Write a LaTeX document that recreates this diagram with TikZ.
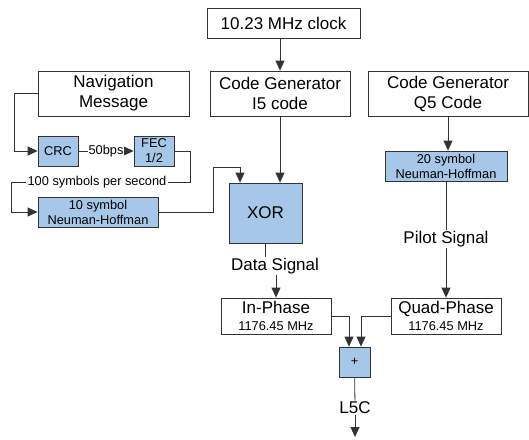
\documentclass[tikz,border=0pt]{standalone}
\usepackage{fontspec}
\setmainfont{Liberation Sans}
\usepackage{tikz}
\usetikzlibrary{calc, positioning, shapes, arrows.meta}
\definecolor{nhblue}{RGB}{166,199,231}
\newcommand\lblfont{\fontsize{17}{20}\selectfont}
\newcommand\tagfont{\fontsize{12.8}{15}\selectfont}
\tikzstyle{box}=[draw=black!80, line width=0.8pt, fill=white, inner sep=0pt, align=center, font=\lblfont]
\tikzstyle{blue box}=[box, fill=nhblue, font=\tagfont]
\tikzstyle{sig}=[inner sep=1pt, fill=white, font=\lblfont]
\tikzstyle{rate}=[inner sep=1pt, fill=white, font=\tagfont]
\tikzstyle{arr}=[-{Triangle[length=10pt,width=9pt]}]

\begin{document}
\begin{tikzpicture}[x=1pt, y=-1pt, draw=black!80, line width=0.8pt]
		\path[use as bounding box] (0,0) rectangle (529,439);
		% Draw the top row
		\node[box, minimum width=153pt, minimum height=30pt] (clock) at (283.5,23) {10.23 MHz clock};
		\node[box, minimum width=151pt, minimum height=45pt] (nav) at (113.5,93.5) {Navigation\\Message};
		\node[box, minimum width=140pt, minimum height=45pt] (cgi) at (280,93.5) {Code Generator\\I5 code};
		\node[box, minimum width=160pt, minimum height=45pt] (cgq) at (448,93.5) {Code Generator\\Q5 Code};

		% Draw the coding blocks
		\node[blue box, minimum width=40pt, minimum height=30pt] (crc) at (58,151) {CRC};
		\node[blue box, minimum width=40pt, minimum height=30pt] (fec) at (154,151) {FEC\\1/2};
		\node[blue box, minimum width=120pt, minimum height=30pt] (nh10) at (98,212) {10 symbol\\Neuman-Hoffman};
		\node[blue box, minimum width=122pt, minimum height=30pt] (nh20) at (446,166) {20 symbol\\Neuman-Hoffman};
		\node[blue box, font=\lblfont, minimum width=73pt, minimum height=60pt] (xor) at (265.5,213) {XOR};

		% Draw the carriers and the sum
		\node[box, minimum width=110pt, minimum height=36pt] (inph) at (276,316) {In-Phase\\[-3pt]{\tagfont 1176.45 MHz}};
		\node[box, minimum width=110pt, minimum height=36pt] (quad) at (446,316) {Quad-Phase\\[-3pt]{\tagfont 1176.45 MHz}};
		\node[blue box, minimum width=31pt, minimum height=30pt] (plus) at (354.5,362) {+};

		% Signal labels
		\node[rate] (sym) at (97,182) {100 symbols per second};
		\node[sig] (data) at (275,266) {Data Signal};
		\node[sig] (pilot) at (446,239) {Pilot Signal};
		\node[sig] (l5c) at (355,408) {L5C};
		\coordinate (xin) at (240,167);
		\coordinate (out) at (355,437);

		% Navigation message path
		\draw[arr] (nav.west) -- ++(-23,0) |- (crc.west);
		\draw[arr] (crc) -- node[rate] {50bps} (fec);
		\draw (fec.east) -- ++(16,0) |- (sym.east);
		\draw[arr] (sym.west) -- ++(-15,0) |- (nh10.west);
		\draw[arr] (nh10.east) -- ++(55,0) |- (xin) -- (xin |- xor.north);

		% Code generators
		\draw[arr] (cgi.north |- clock.south) -- (cgi.north);
		\draw[arr] (cgi.south) -- (cgi.south |- xor.north);
		\draw[arr] (cgq.south) -- (cgq.south |- nh20.north);

		% Data and pilot channels
		\draw (xor.south) -- (xor.south |- data.north);
		\draw[arr] (data.south -| inph.north) -- (inph.north);
		\draw (nh20) -- (pilot);
		\draw[arr] (pilot) -- (quad);

		% Combine
		\draw[arr] (inph.east) -| ([xshift=-5.5pt]plus.north);
		\draw[arr] (quad.west) -| ([xshift=6.5pt]plus.north);
		\draw (plus) -- (l5c);
		\draw[arr] (l5c) -- (out);
	\end{tikzpicture}
\end{document}
